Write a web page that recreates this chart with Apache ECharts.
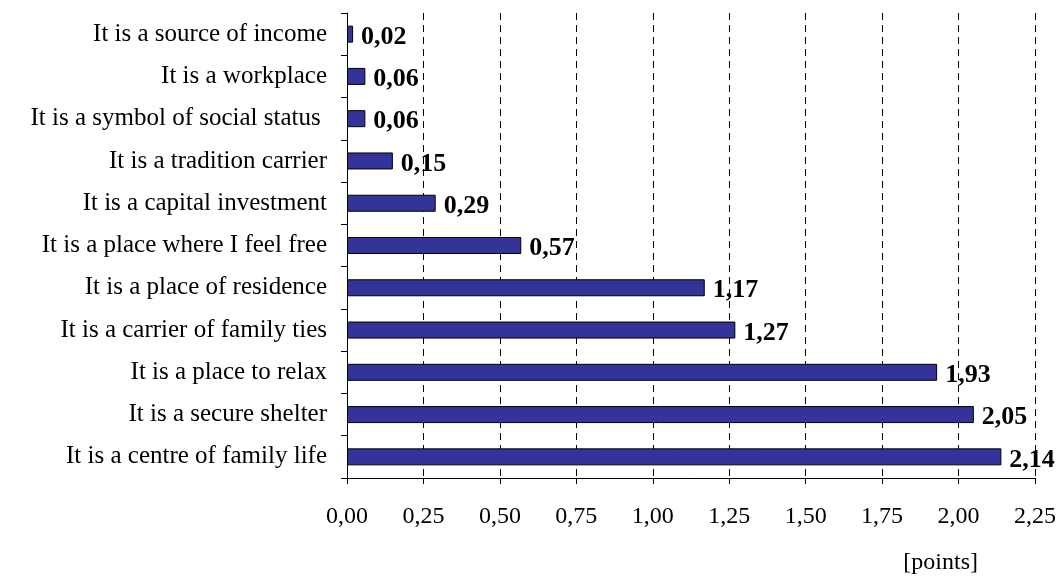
<!DOCTYPE html>
<html><head><meta charset="utf-8">
<script src="https://cdn.jsdelivr.net/npm/echarts@6/dist/echarts.min.js"></script>
<style>html,body{margin:0;padding:0;background:#fff}#c{width:1060px;height:577px}</style>
</head><body><div id="c"></div>
<script>
const categories = [
  "It is a centre of family life",
  "It is a secure shelter",
  "It is a place to relax",
  "It is a carrier of family ties",
  "It is a place of residence",
  "It is a place where I feel free",
  "It is a capital investment",
  "It is a tradition carrier",
  "It is a symbol of social status ",
  "It is a workplace",
  "It is a source of income"
];
const values = [2.14, 2.05, 1.93, 1.27, 1.17, 0.57, 0.29, 0.15, 0.06, 0.06, 0.02];
const axisName = "[points]";
const fmt = v => v.toFixed(2).replace('.', ',');
const font = "'Liberation Serif', 'Times New Roman', serif";
const chart = echarts.init(document.getElementById('c'));
chart.setOption({
  animation: false,
  grid: {left: 347, right: 25, top: 13, bottom: 99},
  xAxis: {
    type: 'value', min: 0, max: 2.25, interval: 0.25,
    axisLine: {show: true, lineStyle: {color: '#000', width: 1}},
    axisTick: {show: true, length: 6, inside: false, lineStyle: {color: '#000'}},
    axisLabel: {formatter: fmt, color: '#000', fontFamily: font, fontSize: 24, margin: 27},
    splitLine: {show: true, lineStyle: {color: '#000', type: [7, 5], width: 1}},
    name: axisName, nameLocation: 'end',
    nameTextStyle: {fontFamily: font, fontSize: 24, color: '#000', padding: [73, 72, 0, 0], verticalAlign: 'top', align: 'right'}
  },
  yAxis: {
    type: 'category', data: categories,
    axisLine: {show: true, lineStyle: {color: '#000', width: 1}},
    axisTick: {show: true, length: 6, lineStyle: {color: '#000'}},
    axisLabel: {color: '#000', fontFamily: font, fontSize: 25, margin: 20},
    splitLine: {show: false}
  },
  series: [{
    type: 'bar', data: values, barWidth: 17,
    itemStyle: {color: '#333399', borderColor: '#000', borderWidth: 1},
    label: {show: true, position: 'right', distance: 8, offset: [0, 3], formatter: p => fmt(p.value),
      fontFamily: font, fontSize: 26, fontWeight: 'bold', color: '#000'}
  }]
});
</script></body></html>
